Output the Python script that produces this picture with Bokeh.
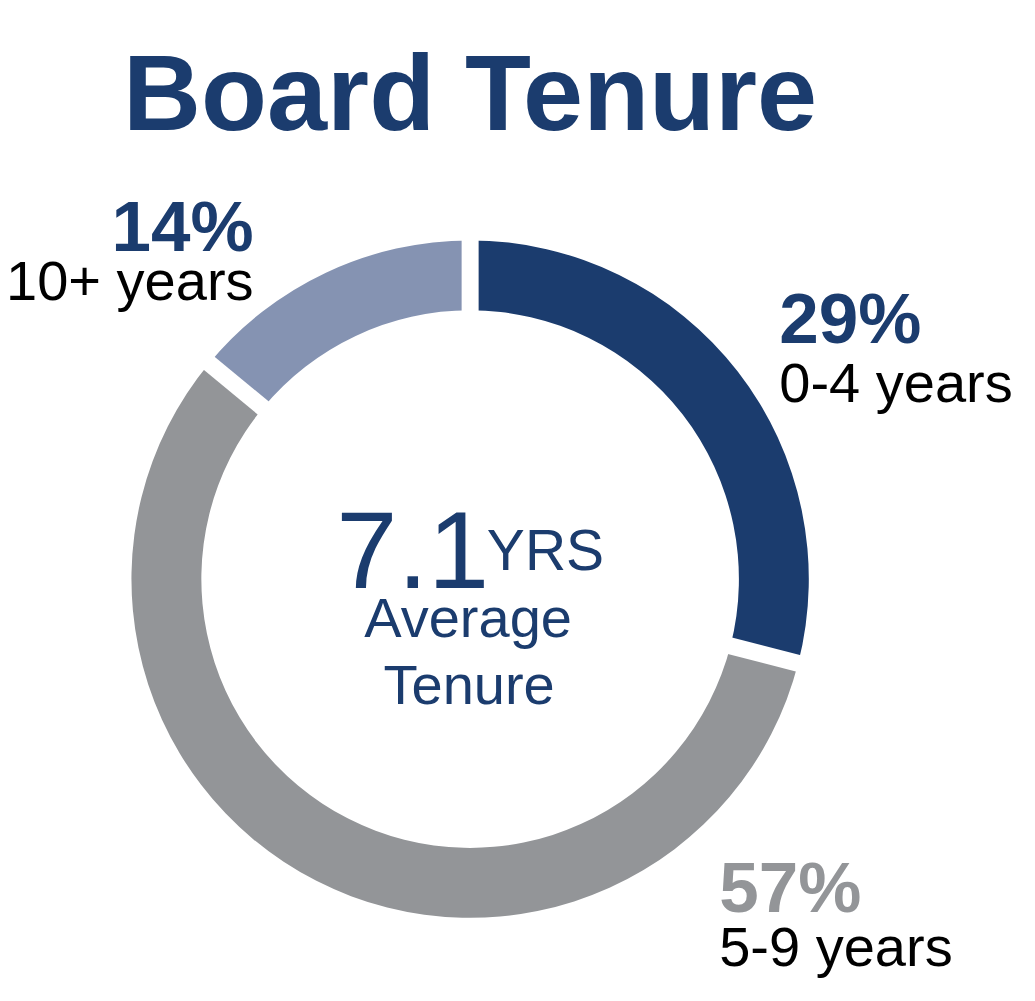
import math
from bokeh.plotting import figure
from bokeh.models import Range1d, ColumnDataSource
from bokeh.core.properties import value
from bokeh.embed import file_html
from bokeh.resources import INLINE

# ---- data ----
categories = ["0-4 years", "5-9 years", "10+ years"]
shares = [29, 57, 14]
average_tenure = "7.1"
title_text = "Board Tenure"

# ---- styles ----
palette = ["#1B3C6E", "#939598", "#8593B2"]
pct_colors = ["#1B3C6E", "#939598", "#1B3C6E"]
DARK = "#1B3C6E"
FONT = "Liberation Sans"

W, H = 1019, 985
RW, RH = 1035, 1001  # layout coordinate space
p = figure(width=W, height=H, x_range=Range1d(0, RW), y_range=Range1d(0, RH),
           output_backend="svg", toolbar_location=None, min_border=0)
p.axis.visible = False
p.grid.visible = False
p.outline_line_color = None
p.background_fill_color = "white"
p.border_fill_color = "white"

cx, cy = 477, 413
r_out, r_in = 344, 273

total = sum(shares)
starts, ends = [], []
cum = 0
for s in shares:
    starts.append(math.pi / 2 - 2 * math.pi * cum / total)
    cum += s
    ends.append(math.pi / 2 - 2 * math.pi * cum / total)

src = ColumnDataSource(dict(start=starts, end=ends, color=palette, cat=categories))
p.annular_wedge(x=cx, y=cy, inner_radius=r_in, outer_radius=r_out,
                start_angle="start", end_angle="end", direction="clock",
                fill_color="color", line_color=None, source=src)

# white separators at segment boundaries
bx0, by0, bx1, by1 = [], [], [], []
for a in starts:
    bx0.append(cx + (r_in - 20) * math.cos(a))
    by0.append(cy + (r_in - 20) * math.sin(a))
    bx1.append(cx + (r_out + 20) * math.cos(a))
    by1.append(cy + (r_out + 20) * math.sin(a))
p.segment(x0=bx0, y0=by0, x1=bx1, y1=by1, line_color="white", line_width=17)

# title
p.text(x=[477], y=[908], text=[title_text], text_font=value(FONT),
       text_font_style="bold", text_font_size="108px", text_color=DARK,
       text_align="center", text_baseline="alphabetic")

# segment labels: (x, y_pct, y_cat, align)
label_pos = [(791, 678, 613, "left"), (730, 100, 40, "left"), (257, 771, 716, "right")]
for i, (lx, ly_pct, ly_cat, al) in enumerate(label_pos):
    p.text(x=[lx], y=[ly_pct], text=[f"{shares[i]}%"], text_font=value(FONT),
           text_font_style="bold", text_font_size="71px", text_color=pct_colors[i],
           text_align=al, text_baseline="alphabetic")
    p.text(x=[lx], y=[ly_cat], text=[categories[i]], text_font=value(FONT),
           text_font_size="56px", text_color="black",
           text_align=al, text_baseline="alphabetic")

# center text
p.text(x=[341], y=[443], text=[average_tenure], text_font=value(FONT),
       text_font_size="110px", text_color=DARK, text_align="left",
       text_baseline="alphabetic")
p.text(x=[494], y=[443], text=["YRS"], text_font=value(FONT),
       text_font_size="57px", text_color=DARK, text_align="left",
       text_baseline="alphabetic")
p.text(x=[475], y=[374], text=["Average"], text_font=value(FONT),
       text_font_size="56px", text_color=DARK, text_align="center",
       text_baseline="alphabetic")
p.text(x=[476], y=[306], text=["Tenure"], text_font=value(FONT),
       text_font_size="56px", text_color=DARK, text_align="center",
       text_baseline="alphabetic")

open("out.html", "w").write(file_html(p, INLINE))
